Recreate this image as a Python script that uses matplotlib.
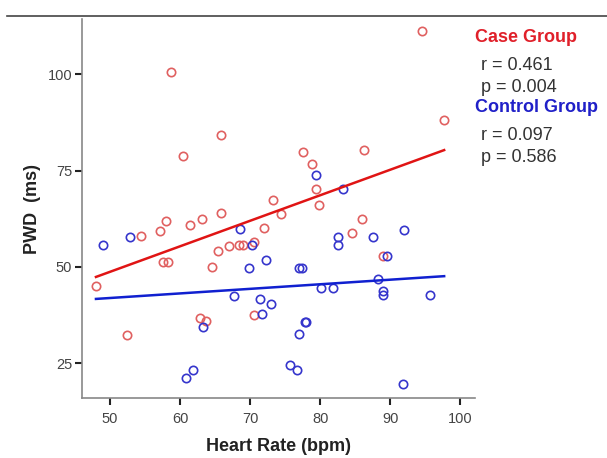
import matplotlib
matplotlib.use('Agg')
import matplotlib.pyplot as plt
from matplotlib.lines import Line2D
import numpy as np

# case group (red) - heart rate vs PWD
case_hr = [48.0, 52.5, 54.5, 57.1, 58.0, 57.5, 58.3, 58.7, 60.4, 61.4,
           63.2, 65.8, 65.8, 64.5, 65.4, 67.0, 68.4, 69.0, 70.6, 72.0,
           73.2, 62.8, 63.7, 70.6, 74.4, 77.5, 78.9, 79.4, 79.8, 86.3,
           86.0, 84.6, 89.0, 94.5, 97.7]
case_pwd = [45.0, 32.3, 58.1, 59.4, 61.8, 51.2, 51.2, 100.6, 78.7, 60.8,
            62.5, 63.9, 84.2, 50.1, 54.2, 55.3, 55.7, 55.8, 56.5, 60.1,
            67.3, 36.8, 36.0, 37.5, 63.7, 79.7, 76.6, 70.1, 66.0, 80.4,
            62.5, 58.8, 52.9, 111.2, 88.0]

# control group (blue)
ctrl_hr = [49.0, 52.8, 68.6, 70.3, 72.2, 69.9, 67.7, 71.4, 73.0, 71.7,
           63.3, 61.9, 60.8, 79.4, 83.3, 91.9, 82.6, 82.6, 87.5, 89.5,
           77.0, 77.4, 88.2, 80.1, 81.8, 89.0, 89.0, 95.7, 77.8, 78.0,
           77.0, 75.7, 76.7, 91.8]
ctrl_pwd = [55.8, 57.7, 59.8, 55.7, 51.9, 49.8, 42.5, 41.6, 40.5, 37.7,
            34.5, 23.3, 21.3, 73.8, 70.1, 59.7, 57.7, 55.6, 57.7, 52.9,
            49.8, 49.8, 46.9, 44.6, 44.6, 43.8, 42.8, 42.6, 35.7, 35.7,
            32.6, 24.6, 23.3, 19.6]

# fit lines
fit_hr = [48.0, 97.7]
case_fit = [47.4, 80.3]
ctrl_fit = [41.7, 47.6]

stats = [('Case Group', 'r = 0.461', 'p = 0.004', '#e0202a'),
         ('Control Group', 'r = 0.097', 'p = 0.586', '#2020c8')]

plt.rcParams['font.family'] = ['Liberation Sans', 'DejaVu Sans']

fig = plt.figure(figsize=(6.07, 4.58), dpi=100)
ax = fig.add_axes([0.135, 0.131, 0.6475, 0.8275])

ax.plot(case_hr, case_pwd, 'o', mfc='none', mec='#e06060', ms=6, mew=1.2)
ax.plot(ctrl_hr, ctrl_pwd, 'o', mfc='none', mec='#3535cc', ms=6, mew=1.2)
ax.plot(fit_hr, case_fit, color='#e01414', lw=1.8)
ax.plot(fit_hr, ctrl_fit, color='#1020d0', lw=1.8)

ax.set_xlim(46, 102.1)
ax.set_ylim(16.0, 114.3)
ax.set_xticks([50, 60, 70, 80, 90, 100])
ax.set_yticks([25, 50, 75, 100])

for s in ['top', 'right']:
    ax.spines[s].set_visible(False)
for s in ['left', 'bottom']:
    ax.spines[s].set_color('#888888')
    ax.spines[s].set_linewidth(1.2)
ax.tick_params(direction='out', length=5, width=1.5, color='#222222',
               labelsize=10.5, labelcolor='#444444', pad=2)
ax.tick_params(axis='x', pad=5)

ax.set_xlabel('Heart Rate (bpm)', fontsize=13, fontweight='bold',
              color='#222222', labelpad=9)
ax.set_ylabel('PWD  (ms)', fontsize=13, fontweight='bold',
              color='#222222', labelpad=5)

# stats text on the right
y0 = 1 - 38 / 458
for i, (name, r, p, col) in enumerate(stats):
    yb = y0 - i * (70 / 458)
    fig.text(475 / 607, yb, name, color=col, fontsize=13,
             fontweight='bold', va='center')
    fig.text(481 / 607, yb - 27 / 458, r, color='#333333', fontsize=13, va='center')
    fig.text(481 / 607, yb - 50 / 458, p, color='#333333', fontsize=13, va='center')

fig.add_artist(Line2D([7 / 607, 1.0], [1 - 15.5 / 458, 1 - 15.5 / 458],
                      color='#444444', lw=1.2))

fig.savefig('out.png', dpi=100)
